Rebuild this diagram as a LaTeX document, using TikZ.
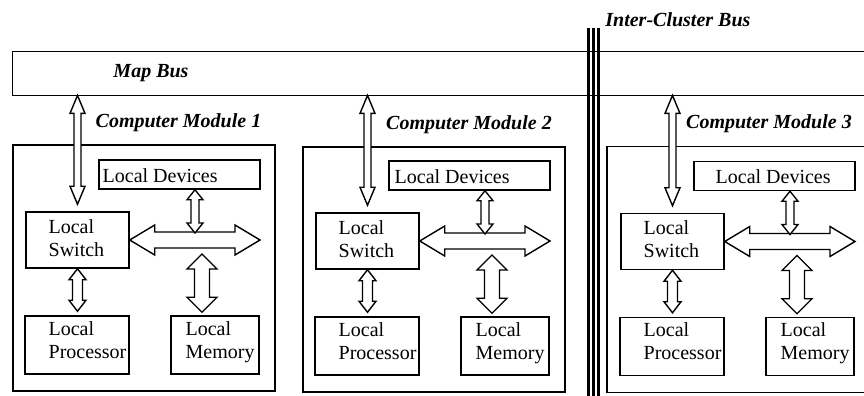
\documentclass[tikz,border=0pt]{standalone}
\usepackage{fontspec}
\setmainfont{Liberation Serif}
\usetikzlibrary{calc}

% vertical double block arrow: top point, bottom point, shaft half width, head half width, head length
\newcommand\vbus[5]{%
  \path[blk] let \p1=(#1), \p2=(#2) in
    (\x1,\y1) -- ({\x1+#4},{\y1-#5}) -- ({\x1+#3},{\y1-#5}) -- ({\x1+#3},{\y2+#5})
    -- ({\x1+#4},{\y2+#5}) -- (\x1,\y2) -- ({\x1-#4},{\y2+#5}) -- ({\x1-#3},{\y2+#5})
    -- ({\x1-#3},{\y1-#5}) -- ({\x1-#4},{\y1-#5}) -- cycle;}
% horizontal double block arrow: left point, right point, shaft half width, head half width, head length
\newcommand\hbus[5]{%
  \path[blk] let \p1=(#1), \p2=(#2) in
    (\x1,\y1) -- ({\x1+#5},{\y1+#4}) -- ({\x1+#5},{\y1+#3}) -- ({\x2-#5},{\y1+#3})
    -- ({\x2-#5},{\y1+#4}) -- (\x2,\y1) -- ({\x2-#5},{\y1-#4}) -- ({\x2-#5},{\y1-#3})
    -- ({\x1+#5},{\y1-#3}) -- ({\x1+#5},{\y1-#4}) -- cycle;}

% one computer module: index, x offset, y offset, padding of the devices text
\newcommand\cmodule[4]{%
  \node[unit, minimum width=80.5pt, minimum height=14.5pt] (dev#1) at ({#2+179.5},{#3+174.5}) {};
  \node[txt, xshift=#4, yshift=-1.5pt] (devt#1) at (dev#1.west) {Local Devices\strut};
  \node[unit, minimum width=51.5pt, minimum height=28pt] (sw#1) at ({#2+77.5},{#3+240}) {};
  \node[txt, xshift=11.5pt, yshift=0pt] (swt#1) at (sw#1.west) {Local\strut\\Switch\strut};
  \node[unit, minimum width=52pt, minimum height=29pt] (cpu#1) at ({#2+77},{#3+345}) {};
  \node[txt, xshift=12pt, yshift=1.5pt] (cput#1) at (cpu#1.west) {Local\strut\\Processor\strut};
  \node[unit, minimum width=44pt, minimum height=29pt] (mem#1) at ({#2+215},{#3+345}) {};
  \node[txt, xshift=7.5pt, yshift=1.5pt] (memt#1) at (mem#1.west) {Local\strut\\Memory\strut};
  \coordinate (busend#1) at ({#2+260},{#3+241});
  \coordinate (tapd#1) at ({#2+195},{#3+241});
  \coordinate (tapm#1) at ({#2+202},{#3+241});
  % links
  \vbus{mapbus.south -| sw#1.north}{$(sw#1.north)+(0,-7)$}{1.75pt}{3.75pt}{9pt}
  \hbus{sw#1.east}{busend#1}{4pt}{7.5pt}{12.5pt}
  \vbus{dev#1.south -| tapd#1}{$(tapd#1)+(0,-8)$}{2pt}{4pt}{5pt}
  \vbus{$(tapm#1)+(0,13)$}{$(tapm#1 |- mem#1.north)+(0,-3)$}{3.75pt}{7.5pt}{7.5pt}
  \vbus{sw#1.south}{$(sw#1.south |- cpu#1.north)+(0,-4)$}{2.5pt}{4.25pt}{5.5pt}
}

\begin{document}
\begin{tikzpicture}[x=0.5pt, y=-0.5pt,
  frame/.style={line width=0.8pt},
  unit/.style={draw, line width=0.75pt, inner sep=0pt},
  txt/.style={inner sep=0pt, anchor=west, align=left, font=\fontsize{10}{11.5}\selectfont},
  title/.style={inner sep=0pt, font=\fontsize{10}{12}\selectfont\bfseries\itshape},
  blk/.style={draw, fill=white, line width=0.7pt, line join=miter},
  icbline/.style={line width=1.3pt}]
\useasboundingbox (0,0) rectangle (864,396);

% map bus (open to the right)
\node[minimum width=425.5pt, minimum height=21.5pt, inner sep=0pt] (mapbus) at (438.5,73.5) {};
\draw[frame] (mapbus.north east) -- (mapbus.north west) -- (mapbus.south west) -- (mapbus.south east);
\node[title] (mapbust) at (151,73) {Map Bus};

% module frames
\node[unit, minimum width=131pt, minimum height=123pt] (mod1) at (144,268) {};
\node[unit, minimum width=131pt, minimum height=122.5pt] (mod2) at (434,269.5) {};
\node[minimum width=128.25pt, minimum height=122.5pt, inner sep=0pt] (mod3) at (735.75,269.5) {};
\draw[frame] (mod3.north east) -- (mod3.north west) -- (mod3.south west) -- (mod3.south east);

\node[title] (modt1) at (178.5,123) {Computer Module 1};
\node[title] (modt2) at (469,125) {Computer Module 2};
\node[title] (modt3) at (769,124) {Computer Module 3};

% module contents
\cmodule{1}{0}{0}{2pt}
\cmodule{2}{290}{1}{3pt}
\cmodule{3}{595}{1.5}{11pt}

% inter-cluster bus
\coordinate (icbtop) at (593.5,28);
\coordinate (icbbot) at (593.5,396);
\foreach \o in {-5,0,5}
  \draw[icbline] ($(icbtop)+(\o,0)$) -- ($(icbbot)+(\o,0)$);
\node[title, anchor=west] (icbt) at (605,20) {Inter-Cluster Bus};
\end{tikzpicture}
\end{document}
